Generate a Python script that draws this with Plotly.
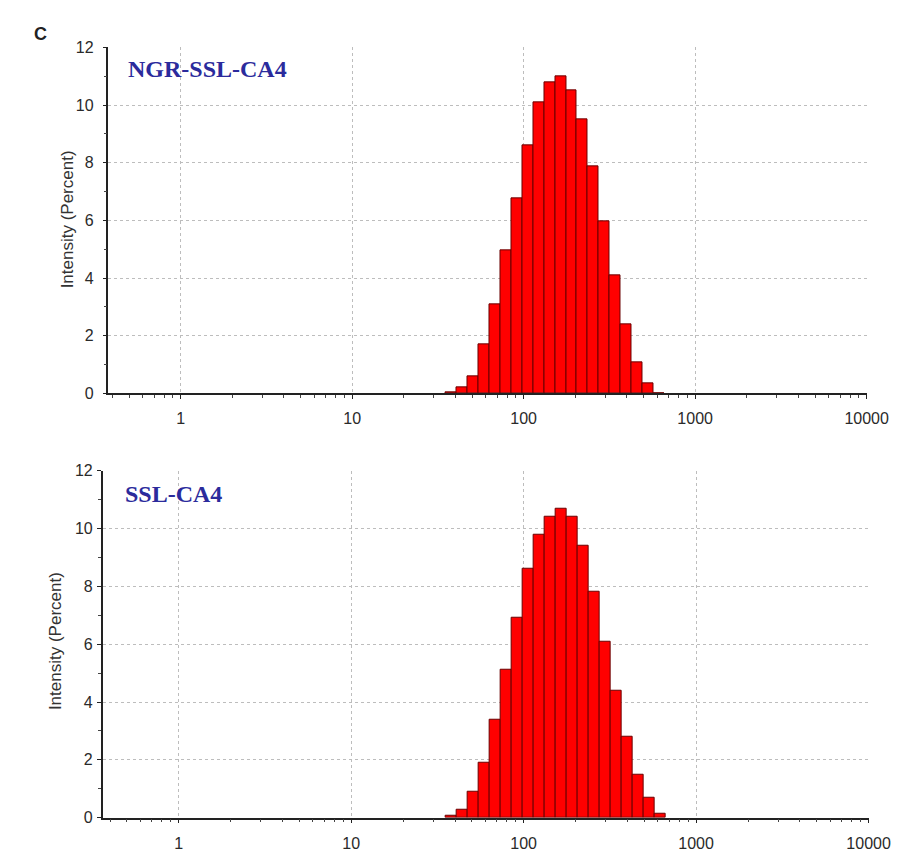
import numpy as np
import plotly.graph_objects as go

# Size bins (d.nm) of the distribution
sizes = [37.84, 43.82, 50.75, 58.77, 68.06, 78.82, 91.28, 105.7, 122.4, 141.8,
         164.2, 190.1, 220.2, 255.0, 295.3, 342.0, 396.1, 458.7, 531.2, 615.1]

# Intensity (%) for each sample
ngr_ssl_ca4 = [0.05, 0.2, 0.6, 1.7, 3.1, 4.95, 6.75, 8.6, 10.1, 10.8,
               11.0, 10.5, 9.5, 7.86, 5.97, 4.1, 2.4, 1.08, 0.35, 0.0]
ssl_ca4 = [0.05, 0.27, 0.88, 1.9, 3.4, 5.1, 6.9, 8.6, 9.8, 10.4,
           10.7, 10.4, 9.4, 7.8, 6.1, 4.4, 2.8, 1.5, 0.7, 0.15]

panel_labels = ["NGR-SSL-CA4", "SSL-CA4"]
x_ticks = [1, 10, 100, 1000, 10000]
x_ticktext = ["1", "10", "100", "1000", "10000"]
y_ticks = [0, 2, 4, 6, 8, 10, 12]

W, H = 906, 852

# bin edges on the log scale (geometric midpoints)
s = np.array(sizes)
half = np.diff(np.log10(s)).mean() / 2
lower = 10 ** (np.log10(s) - half)
upper = 10 ** (np.log10(s) + half)
widths = upper - lower
offsets = lower - s

fig = go.Figure()
for i, vals in enumerate([ngr_ssl_ca4, ssl_ca4]):
    fig.add_trace(go.Bar(
        x=sizes, y=vals, width=widths, offset=offsets,
        marker=dict(color="#ff0000", line=dict(color="#6a0000", width=1)),
        xaxis="x" if i == 0 else "x2", yaxis="y" if i == 0 else "y2",
        showlegend=False, hoverinfo="x+y"))

def px_x(p):
    return p / W

def px_y(p):
    return 1 - p / H

axis_font = dict(family="Liberation Sans, Arial", size=16, color="#2a2a2a")
grid = dict(showgrid=True, gridcolor="#bdbdbd", griddash="dot", gridwidth=1)

def xaxis(dom, rng, anchor):
    return dict(type="log", domain=dom, range=rng, tickvals=x_ticks, ticktext=x_ticktext,
                anchor=anchor, ticks="outside", ticklen=4, tickcolor="#222",
                tickfont=axis_font, ticklabelstandoff=6,
                showline=True, linecolor="#222", linewidth=1.5,
                minor=dict(dtick="D1", ticks="outside", ticklen=3, tickcolor="#444",
                           showgrid=False),
                zeroline=False, fixedrange=True, **grid)

def yaxis(dom, anchor, standoff):
    return dict(domain=dom, range=[0, 12], tickvals=y_ticks, anchor=anchor,
                ticks="outside", ticklen=4, tickcolor="#222", tickfont=axis_font,
                ticklabelstandoff=standoff,
                showline=True, linecolor="#222", linewidth=1.5,
                minor=dict(dtick=1, ticks="outside", ticklen=3, tickcolor="#444",
                           showgrid=False),
                zeroline=False, fixedrange=True, **grid)

fig.update_layout(
    width=W, height=H, margin=dict(l=0, r=0, t=0, b=0),
    paper_bgcolor="white", plot_bgcolor="white", bargap=0,
    xaxis=xaxis([px_x(103), px_x(880)], [-0.421, 4.0], "y"),
    yaxis=yaxis([px_y(385), px_y(32)], "x", 6),
    xaxis2=xaxis([px_x(97), px_x(882)], [-0.441, 4.0], "y2"),
    yaxis2=yaxis([px_y(818), px_y(464)], "x2", 1),
)

label_font = dict(family="Liberation Serif, Times New Roman", size=24, color="#2b2b9c")
fig.add_annotation(x=px_x(121), y=px_y(54), xref="paper", yref="paper", xanchor="left",
                   yanchor="middle", text="<b>%s</b>" % panel_labels[0], showarrow=False,
                   font=label_font)
fig.add_annotation(x=px_x(118), y=px_y(488), xref="paper", yref="paper", xanchor="left",
                   yanchor="middle", text="<b>%s</b>" % panel_labels[1], showarrow=False,
                   font=label_font)

title_font = dict(family="Liberation Sans, Arial", size=17, color="#333333")
fig.add_annotation(x=px_x(61), y=px_y(208), xref="paper", yref="paper", textangle=-90,
                   xanchor="center", yanchor="middle",
                   text="Intensity (Percent)", showarrow=False, font=title_font)
fig.add_annotation(x=px_x(48), y=px_y(638), xref="paper", yref="paper", textangle=-90,
                   xanchor="center", yanchor="middle",
                   text="Intensity (Percent)", showarrow=False, font=title_font)

fig.add_annotation(x=px_x(33), y=px_y(18), xref="paper", yref="paper",
                   xanchor="center", yanchor="middle",
                   text="<b>C</b>", showarrow=False,
                   font=dict(family="Liberation Sans, Arial", size=18, color="#222"))

fig.write_html("out.html")
